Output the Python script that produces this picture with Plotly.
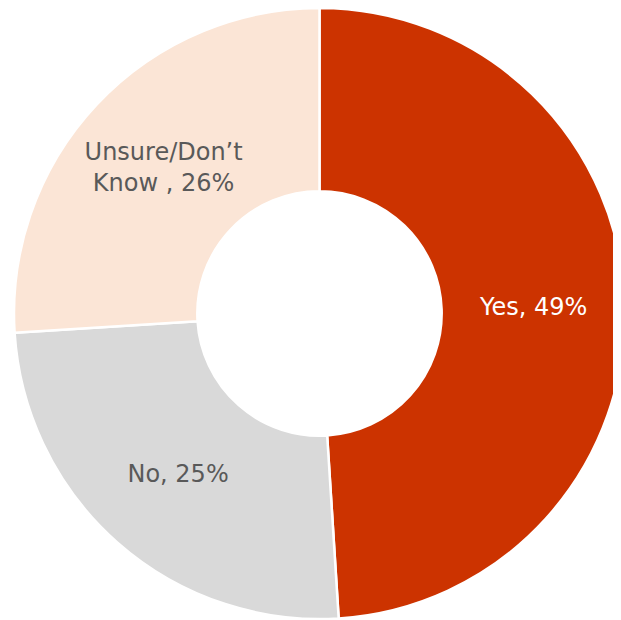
import plotly.graph_objects as go

labels = ["Yes", "No", "Unsure/Don't Know "]
values = [49, 25, 26]
label_text = ["Yes, 49%", "No, 25%", "Unsure/Don’t<br>Know , 26%"]
colors = ["#CC3300", "#D9D9D9", "#FBE5D6"]
text_colors = ["#FFFFFF", "#595959", "#595959"]

fig = go.Figure(go.Pie(
    labels=labels,
    values=values,
    text=label_text,
    textinfo="text",
    textposition="inside",
    insidetextorientation="horizontal",
    hole=0.40,
    sort=False,
    direction="clockwise",
    rotation=0,
    marker=dict(colors=colors, line=dict(color="#FFFFFF", width=2.5)),
    insidetextfont=dict(family="DejaVu Sans", size=24, color=text_colors),
    domain=dict(x=[6 / 621, 617 / 621], y=[9 / 620, 1.0]),
    showlegend=False,
    hoverinfo="label+percent",
))

fig.update_layout(
    width=621,
    height=620,
    margin=dict(l=0, r=0, t=0, b=0),
    paper_bgcolor="#FFFFFF",
    plot_bgcolor="#FFFFFF",
    uniformtext=dict(minsize=24, mode="show"),
)

fig.write_html("out.html")
